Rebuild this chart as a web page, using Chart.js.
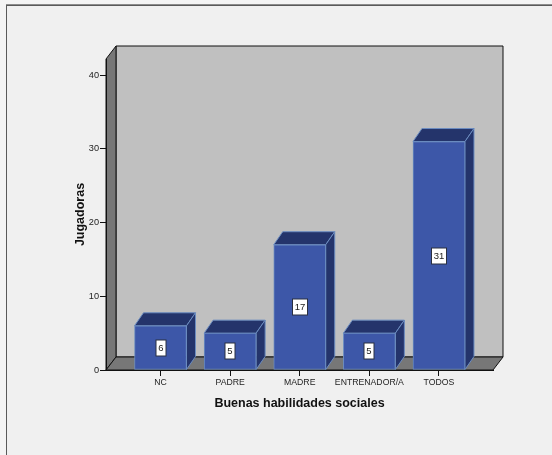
<!DOCTYPE html>
<html>
<head>
<meta charset="utf-8">
<style>
  html, body { margin: 0; padding: 0; background: #f4f4f4; }
  #wrap { width: 552px; height: 455px; }
</style>
<script src="https://cdn.jsdelivr.net/npm/chart.js@4"></script>
</head>
<body>
<div id="wrap"><canvas id="chart" width="552" height="455"></canvas></div>
<script>
const categories = ['NC', 'PADRE', 'MADRE', 'ENTRENADOR/A', 'TODOS'];
const jugadoras = [6, 5, 17, 5, 31];
const yTicks = [0, 10, 20, 30, 40];
const xAxisTitle = 'Buenas habilidades sociales';
const yAxisTitle = 'Jugadoras';

const FONT = '"Liberation Sans", Arial, sans-serif';
const WALL_DX = 10, WALL_DY = 13;
const BAR_DX = 9, BAR_DY = 13;

function polygon(ctx, pts, fill, stroke, lw) {
  ctx.beginPath();
  pts.forEach((p, i) => i ? ctx.lineTo(p[0], p[1]) : ctx.moveTo(p[0], p[1]));
  ctx.closePath();
  ctx.fillStyle = fill;
  ctx.fill();
  if (stroke) {
    ctx.strokeStyle = stroke;
    ctx.lineWidth = lw || 1;
    ctx.lineJoin = 'miter';
    ctx.stroke();
  }
}

// Panel background plus the three walls of the 3D plotting box
const boxWalls = {
  id: 'boxWalls',
  beforeDraw(chart) {
    const { ctx, chartArea: a, width, height } = chart;
    const l = a.left, r = a.right, t = a.top, b = a.bottom;
    ctx.save();
    ctx.fillStyle = '#f0f0f0';
    ctx.fillRect(7, 6, width - 7, height - 6);
    ctx.fillStyle = '#8c8c8c';
    ctx.fillRect(6, 4, width - 6, 1);
    ctx.fillStyle = '#5a5a5a';
    ctx.fillRect(6, 5, width - 6, 1);
    ctx.fillRect(6, 5, 1, height - 5);

    polygon(ctx, [[l + WALL_DX, t - WALL_DY], [r + WALL_DX, t - WALL_DY], [r + WALL_DX, b - WALL_DY], [l + WALL_DX, b - WALL_DY]], '#c0c0c0', '#111', 1);
    polygon(ctx, [[l, t], [l + WALL_DX, t - WALL_DY], [l + WALL_DX, b - WALL_DY], [l, b]], '#777777', '#111', 1);
    polygon(ctx, [[l, b], [l + WALL_DX, b - WALL_DY], [r + WALL_DX, b - WALL_DY], [r, b]], '#777777', '#111', 1);
    ctx.restore();
  }
};

// Top and side faces of every bar, drawn behind the front faces
const barDepth = {
  id: 'barDepth',
  beforeDatasetsDraw(chart) {
    const { ctx } = chart;
    ctx.save();
    chart.getDatasetMeta(0).data.forEach(bar => {
      const w = bar.width / 2;
      const l = bar.x - w, r = bar.x + w, t = bar.y, b = bar.base;
      polygon(ctx, [[l, t], [l + BAR_DX, t - BAR_DY], [r + BAR_DX, t - BAR_DY], [r, t]], '#24346b', '#6b8cc0', 1);
      polygon(ctx, [[r, t], [r + BAR_DX, t - BAR_DY], [r + BAR_DX, b - BAR_DY], [r, b]], '#24346b', '#6b8cc0', 1);
    });
    ctx.restore();
  }
};

// Boxed value label centred on each bar's front face
const valueBoxes = {
  id: 'valueBoxes',
  afterDatasetsDraw(chart) {
    const { ctx } = chart;
    ctx.save();
    ctx.font = '9.5px ' + FONT;
    ctx.textAlign = 'center';
    ctx.textBaseline = 'middle';
    chart.getDatasetMeta(0).data.forEach((bar, i) => {
      const text = String(jugadoras[i]);
      const cy = Math.round((bar.y + bar.base) / 2);
      const cx = Math.round(bar.x);
      const w = text.length > 1 ? 15 : 10, h = 16;
      ctx.fillStyle = '#ffffff';
      ctx.strokeStyle = '#2b3040';
      ctx.lineWidth = 1;
      ctx.fillRect(cx - w / 2, cy - h / 2, w, h);
      ctx.strokeRect(cx - w / 2, cy - h / 2, w, h);
      ctx.fillStyle = '#222222';
      ctx.fillText(text, cx, cy + 0.5);
    });
    ctx.restore();
  }
};

new Chart(document.getElementById('chart'), {
  type: 'bar',
  data: {
    datasets: [{
      data: categories.map((c, i) => ({ x: i, y: jugadoras[i] })),
      backgroundColor: '#3d57a8',
      borderColor: '#6b8cc0',
      borderWidth: 1,
      barThickness: 52,
      borderSkipped: false
    }]
  },
  plugins: [boxWalls, barDepth, valueBoxes],
  options: {
    responsive: false,
    animation: false,
    events: [],
    layout: { padding: { top: 59, right: 59, left: 0, bottom: 0 } },
    plugins: { legend: { display: false }, tooltip: { enabled: false } },
    scales: {
      x: {
        type: 'linear',
        offset: false,
        min: -0.783,
        max: 4.776,
        afterFit: s => { s.height = 85; },
        afterBuildTicks: s => { s.ticks = categories.map((c, i) => ({ value: i })); },
        grid: { offset: false, drawOnChartArea: false, drawTicks: true, tickLength: 6, tickColor: '#111', tickWidth: 1, color: '#111' },
        border: { display: true, color: '#111', width: 1 },
        ticks: {
          autoSkip: false, maxRotation: 0, padding: 1,
          color: '#222', font: { family: FONT, size: 8.7 },
          callback: v => categories[v]
        },
        title: {
          display: true, text: xAxisTitle, color: '#111',
          font: { family: FONT, size: 12.5, weight: 'bold' },
          padding: { top: 0, bottom: 44 }
        }
      },
      y: {
        type: 'linear',
        min: 0,
        max: 42.2,
        afterFit: s => { s.width = 106; },
        afterBuildTicks: s => { s.ticks = yTicks.map(v => ({ value: v })); },
        grid: { drawOnChartArea: false, drawTicks: true, tickLength: 6, tickColor: '#111', tickWidth: 1, color: '#111' },
        border: { display: true, color: '#111', width: 1 },
        ticks: {
          padding: 1, color: '#222', font: { family: FONT, size: 9.2 },
          callback: v => String(v)
        },
        title: {
          display: true, text: yAxisTitle, color: '#111',
          font: { family: FONT, size: 12.5, weight: 'bold' },
          padding: { top: 73, bottom: 0 }
        }
      }
    }
  }
});
</script>
</body>
</html>
